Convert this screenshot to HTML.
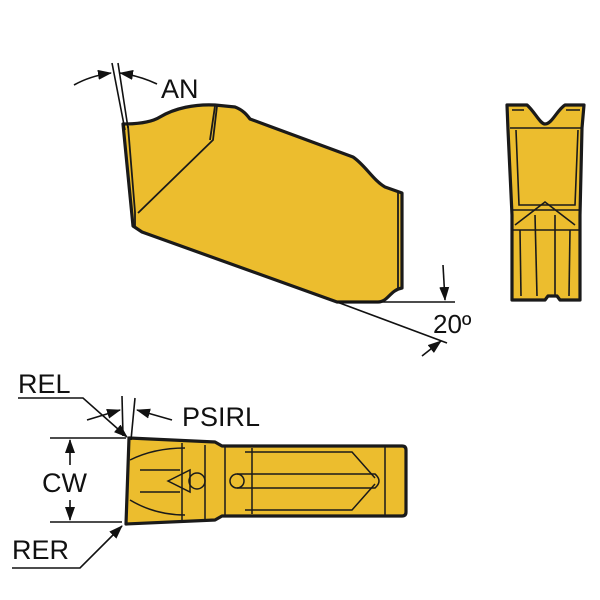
<!DOCTYPE html>
<html><head><meta charset="utf-8"><style>body{margin:0;background:#fff}svg{display:block}</style></head><body>
<svg width="600" height="600" viewBox="0 0 600 600" xmlns="http://www.w3.org/2000/svg" font-family="Liberation Sans, sans-serif">
<defs><marker id="a" markerWidth="14" markerHeight="10" refX="13" refY="5" orient="auto" markerUnits="userSpaceOnUse"><path d="M0,0 L14,5 L0,10 Z" fill="#111"/></marker></defs>
<g stroke="#1a1a1a" stroke-width="3.2" fill="#ecbd2e" stroke-linejoin="round">
<path d="M123,124 C140,124 152,122 160,117 C175,108 195,104 215,105 L235,107 C243,110 247,115 250,119 L353,157 C365,165 373,180 385,187 L402,193 L402,288 C390,290 388,302 378,302 L337,302 L142,232 L133,226 Z"/>
</g>
<g stroke="#1a1a1a" stroke-width="1.8" fill="none">
<path d="M138,213 L213,140 L217,106"/><path d="M128,126 L135,212 L135,226"/><path d="M398,193 L398,288"/><path d="M210,140 L215,106"/>
</g>
<g stroke="#111" stroke-width="1.6" fill="none">
<line x1="112" y1="63" x2="125" y2="130"/><line x1="118" y1="63" x2="128" y2="128"/>
<path d="M74,85 Q90,76 111,73" marker-end="url(#a)"/><path d="M157,84 Q140,76 120,73" marker-end="url(#a)"/>
<line x1="337" y1="302" x2="455" y2="302"/><line x1="337" y1="302" x2="447" y2="343"/>
<path d="M443,265 L445,300" marker-end="url(#a)"/><path d="M422,356 L441,341" marker-end="url(#a)"/>
</g>
<text x="161" y="98" font-size="27" fill="#111">AN</text>
<text x="433" y="333" font-size="26" fill="#111">20º</text>
<g stroke="#1a1a1a" stroke-width="3.2" fill="#ecbd2e" stroke-linejoin="round">
<path d="M507,105 L527,105 C535,112 540,124 545,124 C552,124 557,110 565,105 L584,105 L582,128 L580,215 L580,300 L560,300 L557,296 L548,296 L545,300 L512,300 L512,215 L508,130 Z"/>
</g>
<g stroke="#1a1a1a" stroke-width="1.6" fill="none">
<path d="M510,128 L582,128"/><path d="M516,130 L519,205 L575,205 L578,130"/><path d="M513,210 L580,210"/><path d="M515,225 L545,202 L575,225"/><path d="M513,230 L580,230"/><path d="M520,230 L521,296"/><path d="M535,215 L537,296"/><path d="M555,215 L555,296"/><path d="M570,230 L569,296"/><path d="M512,110 L524,110 M566,110 L580,110"/>
</g>
<g stroke="#1a1a1a" stroke-width="3.2" fill="#ecbd2e" stroke-linejoin="round">
<path d="M129,438 L215,442 L222,446 L402,446 Q406,446 406,450 L406,512 Q406,516 402,516 L222,516 L215,520 L126,524 Z"/>
</g>
<g stroke="#1a1a1a" stroke-width="1.5" fill="none">
<path d="M130,460 C150,450 170,448 185,448 M130,500 C150,512 170,515 185,515"/>
<path d="M182,443 L182,522 M205,445 L205,520 M225,447 L225,515"/>
<path d="M168,481 L190,470 L190,492 Z"/><circle cx="197" cy="481" r="8"/><circle cx="237" cy="481" r="7"/>
<path d="M237,474 L375,474 Q383,481 375,488 L237,488"/>
<path d="M245,452 L352,452 L375,478 M245,510 L352,510 L375,484"/>
<path d="M252,448 L252,514 M385,446 L385,516"/><path d="M140,470 L180,470 M140,492 L180,492"/>
</g>
<g stroke="#111" stroke-width="1.6" fill="none">
<line x1="50" y1="438" x2="126" y2="438"/><line x1="50" y1="522" x2="122" y2="522"/>
<line x1="70" y1="465" x2="70" y2="440" marker-end="url(#a)"/><line x1="70" y1="500" x2="70" y2="520" marker-end="url(#a)"/>
<path d="M18,398 L83,398 L127,437" marker-end="url(#a)"/>
<path d="M12,568 L80,568 L122,526" marker-end="url(#a)"/>
<line x1="122" y1="396" x2="123" y2="436"/><line x1="135" y1="398" x2="131" y2="440"/>
<path d="M87,420 L120,410" marker-end="url(#a)"/><path d="M172,420 L137,410" marker-end="url(#a)"/>
</g>
<g font-size="27" fill="#111">
<text x="18" y="393">REL</text><text x="182" y="426">PSIRL</text><text x="42" y="492">CW</text><text x="12" y="559">RER</text>
</g>
</svg>
</body></html>
